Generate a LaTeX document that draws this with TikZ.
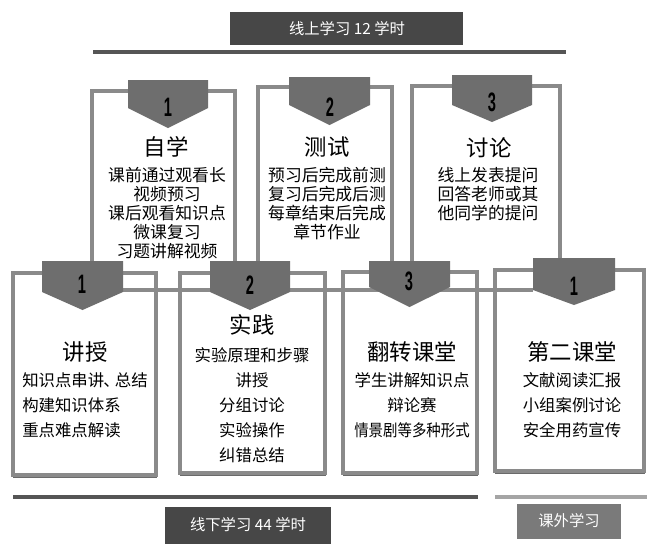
\documentclass[tikz,border=0pt]{standalone}
\usepackage{fontspec}
\setmainfont{Noto Sans CJK SC}
\newfontfamily\digitfont{Liberation Sans}
\definecolor{tabgray}{HTML}{6E6E6E}
\definecolor{framegray}{HTML}{8A8A8A}
\definecolor{shadowgray}{HTML}{6A6A6A}
\definecolor{labeldark}{HTML}{474747}
\definecolor{labellight}{HTML}{7A7A7A}
\definecolor{linedark}{HTML}{555555}
\definecolor{linelight}{HTML}{A5A5A5}
\tikzset{
  frame/.style={draw=framegray, line width=2.4},
  digit/.style={inner sep=0pt, text=black, font=\digitfont\bfseries\fontsize{20pt}{20pt}\selectfont},
  title/.style={inner sep=0pt, font=\fontsize{16.8pt}{18pt}\selectfont},
  bodytop/.style={inner sep=0pt, align=center, font=\fontsize{12.6pt}{14.25pt}\selectfont},
  bodybot/.style={inner sep=0pt, align=center, font=\fontsize{12.3pt}{18.75pt}\selectfont},
  labelbox/.style={inner sep=0pt, text=white, font=\fontsize{11.5pt}{13pt}\selectfont},
}
\newcommand{\tabat}[5]{% x1 x2 top rectbottom pointy
  \fill[tabgray] (#1,#3) -- (#2,#3) -- (#2,#4) -- ({(#1+#2)/2},#5) -- (#1,#4) -- cycle;}
\newcommand{\narrowdigit}[1]{\scalebox{0.55}[1]{#1}}
\begin{document}
\begin{tikzpicture}[x=0.75pt, y=-0.75pt]
\useasboundingbox (0,0) rectangle (648,543);
\fill[white] (0,0) rectangle (648,543);

% top label and line
\fill[labeldark] (230,12) rectangle (463,45);
\node[labelbox] (toplabel) at (347,28.5) {线上学习 12 学时};
\draw[linedark, line width=3.2] (93,52) -- (566,52);

% top (online) boxes, open at bottom
\draw[frame] (92,261) -- (92,91) -- (235,91) -- (235,261);
\draw[frame] (258,261) -- (258,87) -- (392,87) -- (392,261);
\draw[frame] (412,261) -- (412,86) -- (560,86) -- (560,258);

% long horizontal line through lower tabs
\draw[frame] (123,290) -- (533,290);

% bottom (offline) boxes with shadow
\foreach \xa/\xb/\ya/\yb in {13/156/273/475, 180/325/273/473, 343/477/272/473, 495/644/270/471}{
  \draw[shadowgray, line width=2.2] (\xa-0.5,\yb+2) -- (\xb+0.5,\yb+2);
  \draw[shadowgray, line width=1.4] (\xa-1,\ya+2) -- (\xa-1,\yb+2);
  \draw[frame] (\xa,\ya) rectangle (\xb,\yb);
}

% tabs
\tabat{128}{208}{80}{108}{128}
\tabat{289}{370}{77}{105}{125}
\tabat{452}{532}{75}{105}{122}
\tabat{42}{123}{261}{292}{310}
\tabat{210}{290}{261}{292}{310}
\tabat{369}{450}{261}{287}{307}
\tabat{533}{615}{258}{290}{305}

% digits
\node[digit] (d1) at (168,107) {\narrowdigit{1}};
\node[digit] (d2) at (330,107) {\narrowdigit{2}};
\node[digit] (d3) at (492,102) {\narrowdigit{3}};
\node[digit] (e1) at (82,284) {\narrowdigit{1}};
\node[digit] (e2) at (250,285) {\narrowdigit{2}};
\node[digit] (e3) at (409,281) {\narrowdigit{3}};
\node[digit] (e4) at (574,286) {\narrowdigit{1}};

% titles
\node[title] (t1) at (166,147) {自学};
\node[title] (t2) at (327,147) {测试};
\node[title] (t3) at (489,148) {讨论};
\node[title] (b1) at (85,352) {讲授};
\node[title] (b2) at (252,325) {实践};
\node[title] (b3) at (412,352) {翻转课堂};
\node[title] (b4) at (572,352) {第二课堂};

% bodies
\node[bodytop] (tx1) at (167,213) {课前通过观看长\\视频预习\\课后观看知识点\\微课复习\\习题讲解视频};
\node[bodytop] (tx2) at (327,204) {预习后完成前测\\复习后完成后测\\每章结束后完成\\章节作业};
\node[bodytop] (tx3) at (488,194) {线上发表提问\\回答老师或其\\他同学的提问};
\node[bodybot, align=left] (bx1) at (85,405) {知识点串讲\kern-0.05em、\kern-0.3em 总结\\构建知识体系\\重点难点解读};
\node[bodybot] (bx2) at (252,405) {实验原理和步骤\\讲授\\分组讨论\\实验操作\\纠错总结};
\node[bodybot] (bx3) at (412,405) {学生讲解知识点\\辩论赛\\\scalebox{0.88}[1]{情景剧等多种形式}};
\node[bodybot] (bx4) at (572,405) {文献阅读汇报\\小组案例讨论\\安全用药宣传};

% bottom lines and labels
\draw[linedark, line width=3.4] (13,497) -- (478,497);
\draw[linelight, line width=3.4] (495,497) -- (647,497);
\fill[labeldark] (165,507) rectangle (331,546);
\node[labelbox] (offlabel) at (248,525) {线下学习 44 学时};
\fill[labellight] (517,504) rectangle (621,539);
\node[labelbox] (extlabel) at (569,521) {课外学习};
\end{tikzpicture}
\end{document}
